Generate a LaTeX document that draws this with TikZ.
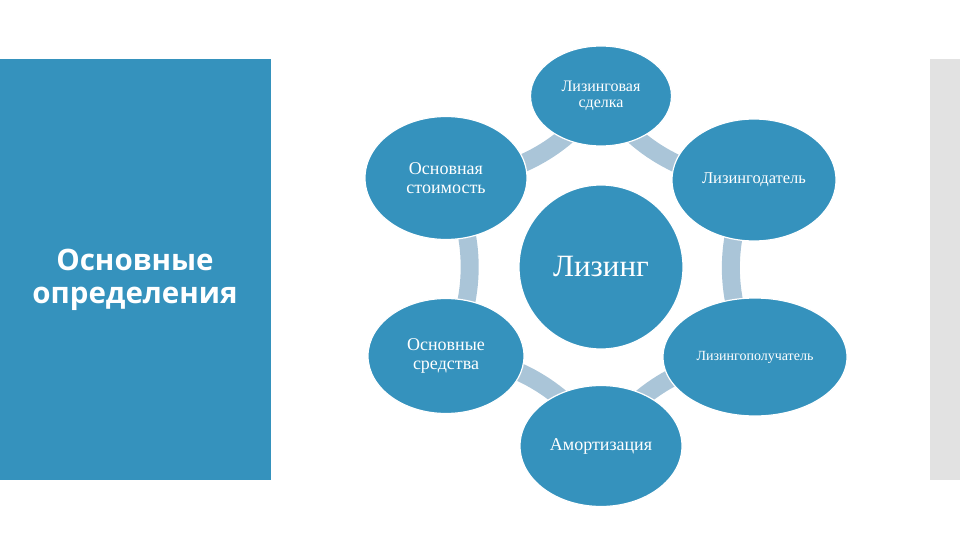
\documentclass[tikz,border=0pt]{standalone}
\usepackage{fontspec}
\setmainfont{Liberation Serif}
\newfontfamily\headfont{Open Sans}
\usetikzlibrary{shapes.geometric,backgrounds}
\definecolor{leasecolor}{RGB}{53,146,189}
\definecolor{ringcolor}{RGB}{170,197,216}
\definecolor{stripcolor}{RGB}{226,226,226}
\begin{document}
\begin{tikzpicture}[x=1pt,y=-1pt]
\tikzstyle{bubble}=[ellipse,draw=white,line width=1.2pt,fill=leasecolor,text=white,inner sep=0pt,align=center]
\tikzstyle{ring}=[ringcolor,line width=18pt,bend left=30,looseness=0.91]
\tikzstyle{small}=[font=\fontsize{16}{16.5}\selectfont]
\tikzstyle{medium}=[font=\fontsize{18}{19.5}\selectfont]
\useasboundingbox (0,0) rectangle (960,540);
\fill[leasecolor] (0,59) rectangle (271,480);
\fill[stripcolor] (930,59) rectangle (960,480);
\node[text=white,align=center,font=\headfont\bfseries\fontsize{29.5}{33}\selectfont] (title) at (135,280) {Основные\\определения};
\node[bubble,small,minimum width=141,minimum height=100] (deal) at (601,96) {Лизинговая\\сделка};
\node[bubble,font=\fontsize{16.5}{18}\selectfont,minimum width=164,minimum height=122] (lessor) at (754,180) {Лизингодатель};
\node[bubble,font=\fontsize{14}{16}\selectfont,minimum width=184,minimum height=118] (lessee) at (755,357) {Лизингополучатель};
\node[bubble,medium,minimum width=162,minimum height=121] (amort) at (601,446) {Амортизация};
\node[bubble,medium,minimum width=156,minimum height=115] (assets) at (446,356) {Основные\\средства};
\node[bubble,medium,minimum width=162,minimum height=123] (value) at (446,178) {Основная\\стоимость};
\node[circle,draw=white,line width=1.2pt,fill=leasecolor,text=white,inner sep=0pt,minimum size=164,font=\fontsize{31}{36}\selectfont] (lease) at (601,267) {Лизинг};
\begin{pgfonlayer}{background}
\draw[ring] (deal.center) to (value.center);
\draw[ring] (value.center) to (assets.center);
\draw[ring] (assets.center) to (amort.center);
\draw[ring] (amort.center) to (lessee.center);
\draw[ring] (lessee.center) to (lessor.center);
\draw[ring] (lessor.center) to (deal.center);
\end{pgfonlayer}
\end{tikzpicture}
\end{document}
